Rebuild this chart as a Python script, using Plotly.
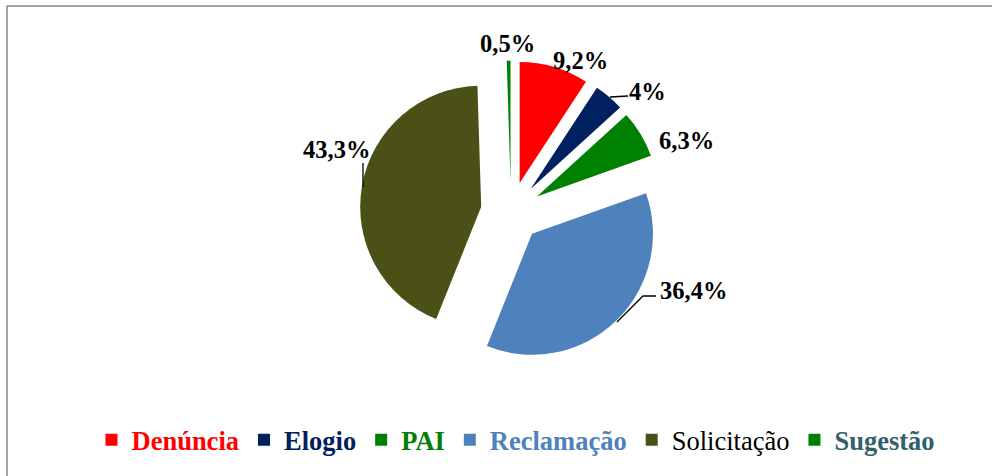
import plotly.graph_objects as go

categories = ["Denúncia", "Elogio", "PAI", "Reclamação", "Solicitação", "Sugestão"]
values = [9.2, 4, 6.3, 36.4, 43.3, 0.5]
slice_colors = ["#FF0000", "#002060", "#008000", "#4F81BD", "#4A5016", "#008000"]
legend_text_colors = ["#FF0000", "#002060", "#008000", "#4F81BD", "#000000", "#31616B"]
legend_bold = [True, True, True, True, False, True]
pull_fraction = 0.25

# label placement (pixel positions of the data-label centres, Excel-like layout)
label_pos_px = [(580, 61), (647, 91), (686, 140), (693, 290), (336, 149), (507, 43)]
leader_paths_px = [
    [(610, 97), (628, 96)],
    [(617, 322), (643, 296), (656, 296)],
    [(363, 163), (363, 187)],
]

W, H = 992, 476


def px(x):
    return x / W


def py(y):
    return 1 - y / H


value_labels = [str(v).replace(".", ",") + "%" for v in values]
legend_labels = []
for name, col, bold in zip(categories, legend_text_colors, legend_bold):
    t = f"<b>{name}</b>" if bold else name
    legend_labels.append(f"<span style='color:{col}'>{t}</span>")

cx, cy, r = 511, 212, 121
half = r * (1 + pull_fraction)

fig = go.Figure(go.Pie(
    labels=legend_labels,
    values=values,
    textinfo="none",
    sort=False,
    direction="clockwise",
    rotation=0,
    pull=[pull_fraction] * len(values),
    marker=dict(colors=slice_colors, line=dict(width=0)),
    domain=dict(x=[px(cx - half), px(cx + half)],
                y=[py(cy + half), py(cy - half)]),
    hoverinfo="skip",
))

annotations = []
for lab, (x, y) in zip(value_labels, label_pos_px):
    annotations.append(dict(
        x=px(x), y=py(y), xref="paper", yref="paper", text=f"<b>{lab}</b>",
        showarrow=False, xanchor="center", yanchor="middle",
        font=dict(family="Liberation Serif", size=24.5, color="#000000"),
    ))

shapes = [
    dict(type="line", xref="paper", yref="paper", x0=px(7), x1=1.01, y0=py(6), y1=py(6),
         line=dict(color="#878787", width=1.5)),
    dict(type="line", xref="paper", yref="paper", x0=px(7), x1=px(7), y0=py(6), y1=-0.01,
         line=dict(color="#878787", width=1.5)),
]
for pts in leader_paths_px:
    d = "M " + " L ".join(f"{px(x)},{py(y)}" for x, y in pts)
    shapes.append(dict(type="path", xref="paper", yref="paper", path=d,
                       line=dict(color="#000000", width=1.3)))

fig.update_layout(
    width=W, height=H,
    margin=dict(l=0, r=0, t=0, b=0, autoexpand=False),
    paper_bgcolor="white",
    font=dict(family="Liberation Serif", size=26.5, color="#000000"),
    legend=dict(orientation="h", x=px(516), xanchor="center", y=py(440), yanchor="middle",
                font=dict(family="Liberation Serif", size=26.5), itemwidth=30,
                bgcolor="rgba(0,0,0,0)"),
    annotations=annotations,
    shapes=shapes,
)

fig.write_html("out.html", config={"displayModeBar": False},
               post_script="document.body.style.margin='0px';")
